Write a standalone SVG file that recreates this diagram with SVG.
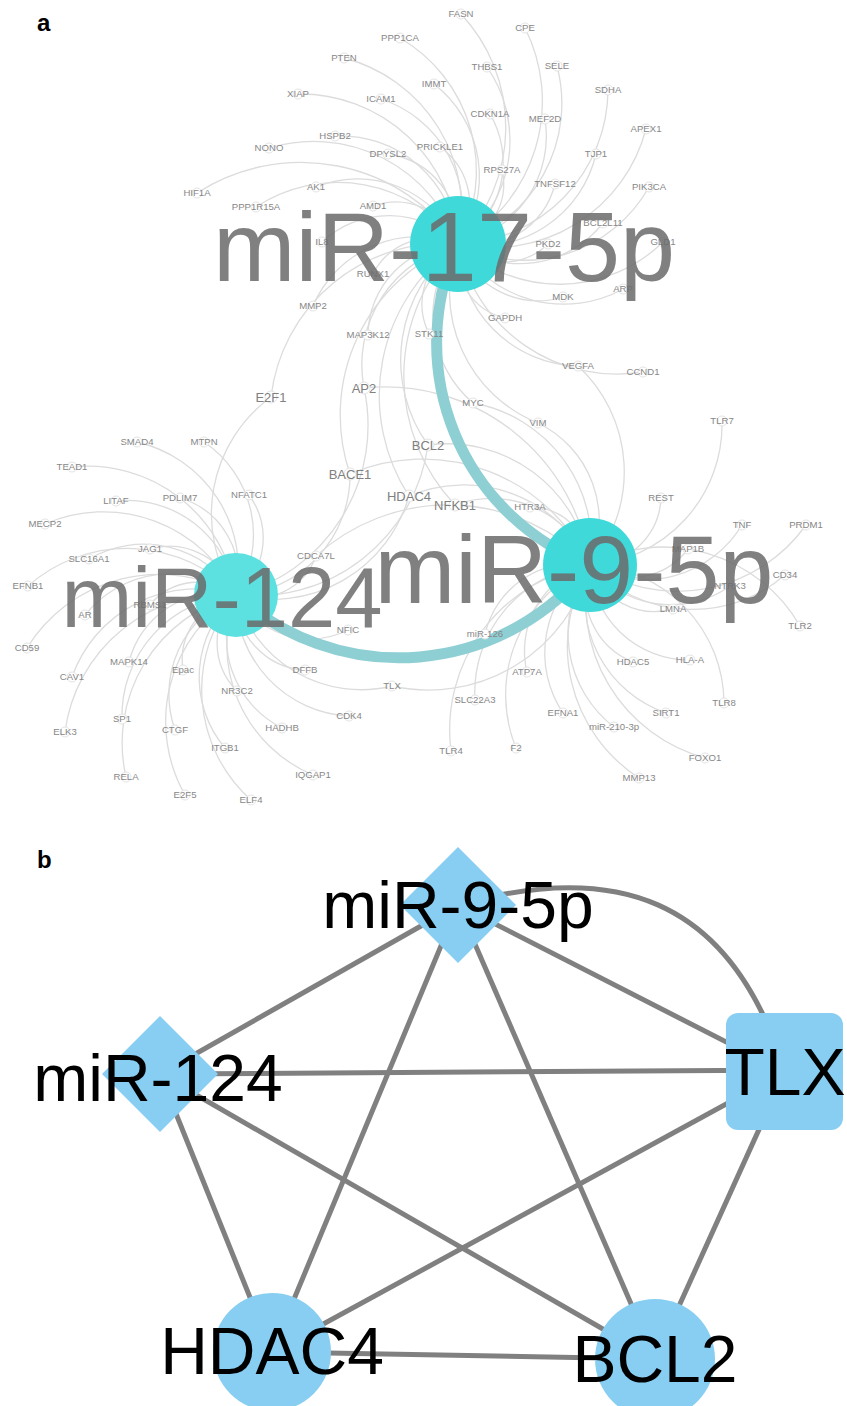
<svg xmlns="http://www.w3.org/2000/svg" width="847" height="1406" viewBox="0 0 847 1406">
<style>
  .bg{fill:#ffffff}
  .e{fill:none;stroke:#dcdcdc;stroke-width:1.3}
  .hx{fill:none;stroke:#8ecfd4;stroke-width:11;stroke-linecap:round}
  .n{fill:#ffffff;stroke:#e4e4e4;stroke-width:1}
  .t{font-family:"Liberation Sans",Arial,sans-serif;font-size:9.6px;fill:#878787;text-anchor:middle}
  .T{font-size:13px;fill:#808080}
  .hub{fill:#40d9da}
  .hub2{fill:#5ce0e0}
  .ht{font-family:"Liberation Sans",Arial,sans-serif;fill:#6b6b6b;fill-opacity:0.86;text-anchor:middle}
  .pl{font-family:"Liberation Sans",Arial,sans-serif;font-size:24px;font-weight:bold;fill:#000}
  .be{stroke:#808080;stroke-width:5;fill:none}
  .bn{fill:#87cef2}
  .bt{font-family:"Liberation Sans",Arial,sans-serif;font-size:66px;fill:#000;text-anchor:middle}
</style>
<rect class="bg" x="0" y="0" width="847" height="1406"/>

<text class="pl" x="37" y="31">a</text>
<text class="pl" x="37" y="868">b</text>

<!-- panel a: gene-to-miRNA edges -->
<g id="edges-a">
  <!-- miR-17-5p -->
  <path class="e" d="M461 14A166 166 0 0 1 458 244"/>
  <path class="e" d="M525 28A163 163 0 0 1 458 244"/>
  <path class="e" d="M400 38A154 154 0 0 1 458 244"/>
  <path class="e" d="M487 67A129 129 0 0 1 458 244"/>
  <path class="e" d="M557 66A147 147 0 0 1 458 244"/>
  <path class="e" d="M344 58A157 157 0 0 1 458 244"/>
  <path class="e" d="M434 84A117 117 0 0 1 458 244"/>
  <path class="e" d="M608 90A155 155 0 0 1 458 244"/>
  <path class="e" d="M298 94A158 158 0 0 1 458 244"/>
  <path class="e" d="M381 99A118 118 0 0 1 458 244"/>
  <path class="e" d="M490 114A96 96 0 0 1 458 244"/>
  <path class="e" d="M545 119A110 110 0 0 1 458 244"/>
  <path class="e" d="M646 129A159 159 0 0 1 458 244"/>
  <path class="e" d="M335 136A118 118 0 0 1 458 244"/>
  <path class="e" d="M269 148A153 153 0 0 1 458 244"/>
  <path class="e" d="M388 154A82 82 0 0 1 458 244"/>
  <path class="e" d="M440 147A71 71 0 0 1 458 244"/>
  <path class="e" d="M596 154A119 119 0 0 1 458 244"/>
  <path class="e" d="M502 170A62 62 0 0 1 458 244"/>
  <path class="e" d="M555 184A82 82 0 0 1 458 244"/>
  <path class="e" d="M649 187A143 143 0 0 1 458 244"/>
  <path class="e" d="M197 193A192 192 0 0 1 458 244"/>
  <path class="e" d="M316 187A110 110 0 0 1 458 244"/>
  <path class="e" d="M256 207A148 148 0 0 1 458 244"/>
  <path class="e" d="M373 206A67 67 0 0 1 458 244"/>
  <path class="e" d="M603 223A106 106 0 0 1 458 244"/>
  <path class="e" d="M548 244A65 65 0 0 1 458 244"/>
  <path class="e" d="M663 242A148 148 0 0 1 458 244"/>
  <path class="e" d="M322 242A98 98 0 0 1 458 244"/>
  <path class="e" d="M623 289A123 123 0 0 1 458 244"/>
  <path class="e" d="M373 274A65 65 0 0 1 458 244"/>
  <path class="e" d="M563 297A85 85 0 0 1 458 244"/>
  <path class="e" d="M313 306A114 114 0 0 1 458 244"/>
  <path class="e" d="M505 318A63 63 0 0 1 458 244"/>
  <path class="e" d="M368 335A92 92 0 0 1 458 244"/>
  <path class="e" d="M429 334A68 68 0 0 1 458 244"/>
  <path class="e" d="M578 366A123 123 0 0 1 458 244"/>
  <path class="e" d="M643 372A162 162 0 0 1 458 244"/>
  <path class="e" d="M271 397A174 174 0 0 1 458 244"/>
  <path class="e" d="M364 388A124 124 0 0 1 458 244"/>
  <path class="e" d="M473 403A115 115 0 0 1 458 244"/>
  <path class="e" d="M538 423A141 141 0 0 1 458 244"/>
  <path class="e" d="M428 445A146 146 0 0 1 458 244"/>
  <path class="e" d="M350 474A183 183 0 0 1 458 244"/>
  <path class="e" d="M455 505A188 188 0 0 1 458 244"/>
  <path class="e" d="M409 496A185 185 0 0 1 458 244"/>
  <!-- miR-124 -->
  <path class="e" d="M236 595A145 145 0 0 1 271 397"/>
  <path class="e" d="M364 388A175 175 0 0 1 236 595"/>
  <path class="e" d="M428 445A175 175 0 0 1 236 595"/>
  <path class="e" d="M350 474A120 120 0 0 1 236 595"/>
  <path class="e" d="M409 496A143 143 0 0 1 236 595"/>
  <path class="e" d="M137 442A131 131 0 0 1 236 595"/>
  <path class="e" d="M204 442A112 112 0 0 1 236 595"/>
  <path class="e" d="M72 467A150 150 0 0 1 236 595"/>
  <path class="e" d="M116 501A110 110 0 0 1 236 595"/>
  <path class="e" d="M180 498A81 81 0 0 1 236 595"/>
  <path class="e" d="M249 495A73 73 0 0 1 236 595"/>
  <path class="e" d="M45 524A147 147 0 0 1 236 595"/>
  <path class="e" d="M89 559A109 109 0 0 1 236 595"/>
  <path class="e" d="M150 549A70 70 0 0 1 236 595"/>
  <path class="e" d="M316 556A64 64 0 0 1 236 595"/>
  <path class="e" d="M28 586A150 150 0 0 1 236 595"/>
  <path class="e" d="M85 615A110 110 0 0 1 236 595"/>
  <path class="e" d="M150 605A62 62 0 0 1 236 595"/>
  <path class="e" d="M348 630A85 85 0 0 1 236 595"/>
  <path class="e" d="M27 648A155 155 0 0 1 236 595"/>
  <path class="e" d="M129 662A91 91 0 0 1 236 595"/>
  <path class="e" d="M183 670A66 66 0 0 1 236 595"/>
  <path class="e" d="M72 677A132 132 0 0 1 236 595"/>
  <path class="e" d="M237 691A69 69 0 0 1 236 595"/>
  <path class="e" d="M305 670A73 73 0 0 1 236 595"/>
  <path class="e" d="M392 686A130 130 0 0 1 236 595"/>
  <path class="e" d="M349 716A119 119 0 0 1 236 595"/>
  <path class="e" d="M122 719A121 121 0 0 1 236 595"/>
  <path class="e" d="M282 728A101 101 0 0 1 236 595"/>
  <path class="e" d="M175 730A107 107 0 0 1 236 595"/>
  <path class="e" d="M65 732A158 158 0 0 1 236 595"/>
  <path class="e" d="M225 748A110 110 0 0 1 236 595"/>
  <path class="e" d="M126 777A153 153 0 0 1 236 595"/>
  <path class="e" d="M313 775A141 141 0 0 1 236 595"/>
  <path class="e" d="M185 795A149 149 0 0 1 236 595"/>
  <path class="e" d="M251 800A148 148 0 0 1 236 595"/>
  <!-- miR-9-5p -->
  <path class="e" d="M364 388A207 207 0 0 1 590 565"/>
  <path class="e" d="M428 445A145 145 0 0 1 590 565"/>
  <path class="e" d="M350 474A185 185 0 0 1 590 565"/>
  <path class="e" d="M409 496A140 140 0 0 1 590 565"/>
  <path class="e" d="M455 505A106 106 0 0 1 590 565"/>
  <path class="e" d="M473 403A144 144 0 0 1 590 565"/>
  <path class="e" d="M538 423A109 109 0 0 1 590 565"/>
  <path class="e" d="M530 507A60 60 0 0 1 590 565"/>
  <path class="e" d="M590 565A167 167 0 0 1 392 686"/>
  <path class="e" d="M316 556A197 197 0 0 1 590 565"/>
  <path class="e" d="M485 634A91 91 0 0 1 590 565"/>
  <path class="e" d="M722 421A141 141 0 0 1 590 565"/>
  <path class="e" d="M661 498A70 70 0 0 1 590 565"/>
  <path class="e" d="M742 525A113 113 0 0 1 590 565"/>
  <path class="e" d="M806 525A158 158 0 0 1 590 565"/>
  <path class="e" d="M688 549A72 72 0 0 1 590 565"/>
  <path class="e" d="M785 575A141 141 0 0 1 590 565"/>
  <path class="e" d="M730 586A102 102 0 0 1 590 565"/>
  <path class="e" d="M590 565A158 158 0 0 1 800 626"/>
  <path class="e" d="M673 609A68 68 0 0 1 590 565"/>
  <path class="e" d="M527 672A89 89 0 0 1 590 565"/>
  <path class="e" d="M475 700A128 128 0 0 1 590 565"/>
  <path class="e" d="M563 713A108 108 0 0 1 590 565"/>
  <path class="e" d="M633 662A76 76 0 0 1 590 565"/>
  <path class="e" d="M690 660A99 99 0 0 1 590 565"/>
  <path class="e" d="M590 565A139 139 0 0 1 724 703"/>
  <path class="e" d="M666 713A120 120 0 0 1 590 565"/>
  <path class="e" d="M614 727A118 118 0 0 1 590 565"/>
  <path class="e" d="M451 751A167 167 0 0 1 590 565"/>
  <path class="e" d="M516 748A142 142 0 0 1 590 565"/>
  <path class="e" d="M705 758A162 162 0 0 1 590 565"/>
  <path class="e" d="M639 778A157 157 0 0 1 590 565"/>
  <path class="e" d="M578 366A144 144 0 0 1 590 565"/>
  <!-- miRNA-to-miRNA links -->
  <path class="hx" d="M458 244A238 238 0 0 0 590 565"/>
  <path class="hx" d="M236 595A243 243 0 0 0 590 565"/>
</g>

<!-- panel a: target genes -->
<g id="n-FASN"><circle class="n" cx="461" cy="14" r="5"/><text class="t" x="461" y="17.4">FASN</text></g>
<g id="n-CPE"><circle class="n" cx="525" cy="28" r="5"/><text class="t" x="525" y="31.4">CPE</text></g>
<g id="n-PPP1CA"><circle class="n" cx="400" cy="38" r="5"/><text class="t" x="400" y="41.4">PPP1CA</text></g>
<g id="n-THBS1"><circle class="n" cx="487" cy="67" r="5"/><text class="t" x="487" y="70.4">THBS1</text></g>
<g id="n-SELE"><circle class="n" cx="557" cy="66" r="5"/><text class="t" x="557" y="69.4">SELE</text></g>
<g id="n-PTEN"><circle class="n" cx="344" cy="58" r="5"/><text class="t" x="344" y="61.4">PTEN</text></g>
<g id="n-IMMT"><circle class="n" cx="434" cy="84" r="5"/><text class="t" x="434" y="87.4">IMMT</text></g>
<g id="n-SDHA"><circle class="n" cx="608" cy="90" r="5"/><text class="t" x="608" y="93.4">SDHA</text></g>
<g id="n-XIAP"><circle class="n" cx="298" cy="94" r="5"/><text class="t" x="298" y="97.4">XIAP</text></g>
<g id="n-ICAM1"><circle class="n" cx="381" cy="99" r="5"/><text class="t" x="381" y="102.4">ICAM1</text></g>
<g id="n-CDKN1A"><circle class="n" cx="490" cy="114" r="5"/><text class="t" x="490" y="117.4">CDKN1A</text></g>
<g id="n-MEF2D"><circle class="n" cx="545" cy="119" r="5"/><text class="t" x="545" y="122.4">MEF2D</text></g>
<g id="n-APEX1"><circle class="n" cx="646" cy="129" r="5"/><text class="t" x="646" y="132.4">APEX1</text></g>
<g id="n-HSPB2"><circle class="n" cx="335" cy="136" r="5"/><text class="t" x="335" y="139.4">HSPB2</text></g>
<g id="n-NONO"><circle class="n" cx="269" cy="148" r="5"/><text class="t" x="269" y="151.4">NONO</text></g>
<g id="n-DPYSL2"><circle class="n" cx="388" cy="154" r="5"/><text class="t" x="388" y="157.4">DPYSL2</text></g>
<g id="n-PRICKLE1"><circle class="n" cx="440" cy="147" r="5"/><text class="t" x="440" y="150.4">PRICKLE1</text></g>
<g id="n-TJP1"><circle class="n" cx="596" cy="154" r="5"/><text class="t" x="596" y="157.4">TJP1</text></g>
<g id="n-RPS27A"><circle class="n" cx="502" cy="170" r="5"/><text class="t" x="502" y="173.4">RPS27A</text></g>
<g id="n-TNFSF12"><circle class="n" cx="555" cy="184" r="5"/><text class="t" x="555" y="187.4">TNFSF12</text></g>
<g id="n-PIK3CA"><circle class="n" cx="649" cy="187" r="5"/><text class="t" x="649" y="190.4">PIK3CA</text></g>
<g id="n-HIF1A"><circle class="n" cx="197" cy="193" r="5"/><text class="t" x="197" y="196.4">HIF1A</text></g>
<g id="n-AK1"><circle class="n" cx="316" cy="187" r="5"/><text class="t" x="316" y="190.4">AK1</text></g>
<g id="n-PPP1R15A"><circle class="n" cx="256" cy="207" r="5"/><text class="t" x="256" y="210.4">PPP1R15A</text></g>
<g id="n-AMD1"><circle class="n" cx="373" cy="206" r="5"/><text class="t" x="373" y="209.4">AMD1</text></g>
<g id="n-BCL2L11"><circle class="n" cx="603" cy="223" r="5"/><text class="t" x="603" y="226.4">BCL2L11</text></g>
<g id="n-PKD2"><circle class="n" cx="548" cy="244" r="5"/><text class="t" x="548" y="247.4">PKD2</text></g>
<g id="n-GLD1"><circle class="n" cx="663" cy="242" r="5"/><text class="t" x="663" y="245.4">GLD1</text></g>
<g id="n-IL8"><circle class="n" cx="322" cy="242" r="5"/><text class="t" x="322" y="245.4">IL8</text></g>
<g id="n-ARP"><circle class="n" cx="623" cy="289" r="5"/><text class="t" x="623" y="292.4">ARP</text></g>
<g id="n-RUNX1"><circle class="n" cx="373" cy="274" r="5"/><text class="t" x="373" y="277.4">RUNX1</text></g>
<g id="n-MDK"><circle class="n" cx="563" cy="297" r="5"/><text class="t" x="563" y="300.4">MDK</text></g>
<g id="n-MMP2"><circle class="n" cx="313" cy="306" r="5"/><text class="t" x="313" y="309.4">MMP2</text></g>
<g id="n-GAPDH"><circle class="n" cx="505" cy="318" r="5"/><text class="t" x="505" y="321.4">GAPDH</text></g>
<g id="n-MAP3K12"><circle class="n" cx="368" cy="335" r="5"/><text class="t" x="368" y="338.4">MAP3K12</text></g>
<g id="n-STK11"><circle class="n" cx="429" cy="334" r="5"/><text class="t" x="429" y="337.4">STK11</text></g>
<g id="n-VEGFA"><circle class="n" cx="578" cy="366" r="5"/><text class="t" x="578" y="369.4">VEGFA</text></g>
<g id="n-CCND1"><circle class="n" cx="643" cy="372" r="5"/><text class="t" x="643" y="375.4">CCND1</text></g>
<g id="n-E2F1"><circle class="n" cx="271" cy="397" r="6"/><text class="t T" x="271" y="401.6">E2F1</text></g>
<g id="n-AP2"><circle class="n" cx="364" cy="388" r="6"/><text class="t T" x="364" y="392.6">AP2</text></g>
<g id="n-MYC"><circle class="n" cx="473" cy="403" r="5"/><text class="t" x="473" y="406.4">MYC</text></g>
<g id="n-VIM"><circle class="n" cx="538" cy="423" r="5"/><text class="t" x="538" y="426.4">VIM</text></g>
<g id="n-BCL2"><circle class="n" cx="428" cy="445" r="6"/><text class="t T" x="428" y="449.6">BCL2</text></g>
<g id="n-BACE1"><circle class="n" cx="350" cy="474" r="6"/><text class="t T" x="350" y="478.6">BACE1</text></g>
<g id="n-HDAC4"><circle class="n" cx="409" cy="496" r="6"/><text class="t T" x="409" y="500.6">HDAC4</text></g>
<g id="n-NFKB1"><circle class="n" cx="455" cy="505" r="6"/><text class="t T" x="455" y="509.6">NFKB1</text></g>
<g id="n-HTR3A"><circle class="n" cx="530" cy="507" r="5"/><text class="t" x="530" y="510.4">HTR3A</text></g>
<g id="n-TLR7"><circle class="n" cx="722" cy="421" r="5"/><text class="t" x="722" y="424.4">TLR7</text></g>
<g id="n-REST"><circle class="n" cx="661" cy="498" r="5"/><text class="t" x="661" y="501.4">REST</text></g>
<g id="n-TNF"><circle class="n" cx="742" cy="525" r="5"/><text class="t" x="742" y="528.4">TNF</text></g>
<g id="n-PRDM1"><circle class="n" cx="806" cy="525" r="5"/><text class="t" x="806" y="528.4">PRDM1</text></g>
<g id="n-MAP1B"><circle class="n" cx="688" cy="549" r="5"/><text class="t" x="688" y="552.4">MAP1B</text></g>
<g id="n-CD34"><circle class="n" cx="785" cy="575" r="5"/><text class="t" x="785" y="578.4">CD34</text></g>
<g id="n-NTRK3"><circle class="n" cx="730" cy="586" r="5"/><text class="t" x="730" y="589.4">NTRK3</text></g>
<g id="n-TLR2"><circle class="n" cx="800" cy="626" r="5"/><text class="t" x="800" y="629.4">TLR2</text></g>
<g id="n-LMNA"><circle class="n" cx="673" cy="609" r="5"/><text class="t" x="673" y="612.4">LMNA</text></g>
<g id="n-SMAD4"><circle class="n" cx="137" cy="442" r="5"/><text class="t" x="137" y="445.4">SMAD4</text></g>
<g id="n-MTPN"><circle class="n" cx="204" cy="442" r="5"/><text class="t" x="204" y="445.4">MTPN</text></g>
<g id="n-TEAD1"><circle class="n" cx="72" cy="467" r="5"/><text class="t" x="72" y="470.4">TEAD1</text></g>
<g id="n-LITAF"><circle class="n" cx="116" cy="501" r="5"/><text class="t" x="116" y="504.4">LITAF</text></g>
<g id="n-PDLIM7"><circle class="n" cx="180" cy="498" r="5"/><text class="t" x="180" y="501.4">PDLIM7</text></g>
<g id="n-NFATC1"><circle class="n" cx="249" cy="495" r="5"/><text class="t" x="249" y="498.4">NFATC1</text></g>
<g id="n-MECP2"><circle class="n" cx="45" cy="524" r="5"/><text class="t" x="45" y="527.4">MECP2</text></g>
<g id="n-SLC16A1"><circle class="n" cx="89" cy="559" r="5"/><text class="t" x="89" y="562.4">SLC16A1</text></g>
<g id="n-JAG1"><circle class="n" cx="150" cy="549" r="5"/><text class="t" x="150" y="552.4">JAG1</text></g>
<g id="n-CDCA7L"><circle class="n" cx="316" cy="556" r="5"/><text class="t" x="316" y="559.4">CDCA7L</text></g>
<g id="n-EFNB1"><circle class="n" cx="28" cy="586" r="5"/><text class="t" x="28" y="589.4">EFNB1</text></g>
<g id="n-AR"><circle class="n" cx="85" cy="615" r="5"/><text class="t" x="85" y="618.4">AR</text></g>
<g id="n-RBMS1"><circle class="n" cx="150" cy="605" r="5"/><text class="t" x="150" y="608.4">RBMS1</text></g>
<g id="n-NFIC"><circle class="n" cx="348" cy="630" r="5"/><text class="t" x="348" y="633.4">NFIC</text></g>
<g id="n-CD59"><circle class="n" cx="27" cy="648" r="5"/><text class="t" x="27" y="651.4">CD59</text></g>
<g id="n-MAPK14"><circle class="n" cx="129" cy="662" r="5"/><text class="t" x="129" y="665.4">MAPK14</text></g>
<g id="n-Epac"><circle class="n" cx="183" cy="670" r="5"/><text class="t" x="183" y="673.4">Epac</text></g>
<g id="n-CAV1"><circle class="n" cx="72" cy="677" r="5"/><text class="t" x="72" y="680.4">CAV1</text></g>
<g id="n-NR3C2"><circle class="n" cx="237" cy="691" r="5"/><text class="t" x="237" y="694.4">NR3C2</text></g>
<g id="n-DFFB"><circle class="n" cx="305" cy="670" r="5"/><text class="t" x="305" y="673.4">DFFB</text></g>
<g id="n-TLX"><circle class="n" cx="392" cy="686" r="5"/><text class="t" x="392" y="689.4">TLX</text></g>
<g id="n-CDK4"><circle class="n" cx="349" cy="716" r="5"/><text class="t" x="349" y="719.4">CDK4</text></g>
<g id="n-SP1"><circle class="n" cx="122" cy="719" r="5"/><text class="t" x="122" y="722.4">SP1</text></g>
<g id="n-HADHB"><circle class="n" cx="282" cy="728" r="5"/><text class="t" x="282" y="731.4">HADHB</text></g>
<g id="n-CTGF"><circle class="n" cx="175" cy="730" r="5"/><text class="t" x="175" y="733.4">CTGF</text></g>
<g id="n-ELK3"><circle class="n" cx="65" cy="732" r="5"/><text class="t" x="65" y="735.4">ELK3</text></g>
<g id="n-ITGB1"><circle class="n" cx="225" cy="748" r="5"/><text class="t" x="225" y="751.4">ITGB1</text></g>
<g id="n-RELA"><circle class="n" cx="126" cy="777" r="5"/><text class="t" x="126" y="780.4">RELA</text></g>
<g id="n-IQGAP1"><circle class="n" cx="313" cy="775" r="5"/><text class="t" x="313" y="778.4">IQGAP1</text></g>
<g id="n-E2F5"><circle class="n" cx="185" cy="795" r="5"/><text class="t" x="185" y="798.4">E2F5</text></g>
<g id="n-ELF4"><circle class="n" cx="251" cy="800" r="5"/><text class="t" x="251" y="803.4">ELF4</text></g>
<g id="n-miR-126"><circle class="n" cx="485" cy="634" r="5"/><text class="t" x="485" y="637.4">miR-126</text></g>
<g id="n-ATP7A"><circle class="n" cx="527" cy="672" r="5"/><text class="t" x="527" y="675.4">ATP7A</text></g>
<g id="n-SLC22A3"><circle class="n" cx="475" cy="700" r="5"/><text class="t" x="475" y="703.4">SLC22A3</text></g>
<g id="n-EFNA1"><circle class="n" cx="563" cy="713" r="5"/><text class="t" x="563" y="716.4">EFNA1</text></g>
<g id="n-HDAC5"><circle class="n" cx="633" cy="662" r="5"/><text class="t" x="633" y="665.4">HDAC5</text></g>
<g id="n-HLA-A"><circle class="n" cx="690" cy="660" r="5"/><text class="t" x="690" y="663.4">HLA-A</text></g>
<g id="n-TLR8"><circle class="n" cx="724" cy="703" r="5"/><text class="t" x="724" y="706.4">TLR8</text></g>
<g id="n-SIRT1"><circle class="n" cx="666" cy="713" r="5"/><text class="t" x="666" y="716.4">SIRT1</text></g>
<g id="n-miR-210-3p"><circle class="n" cx="614" cy="727" r="5"/><text class="t" x="614" y="730.4">miR-210-3p</text></g>
<g id="n-TLR4"><circle class="n" cx="451" cy="751" r="5"/><text class="t" x="451" y="754.4">TLR4</text></g>
<g id="n-F2"><circle class="n" cx="516" cy="748" r="5"/><text class="t" x="516" y="751.4">F2</text></g>
<g id="n-FOXO1"><circle class="n" cx="705" cy="758" r="5"/><text class="t" x="705" y="761.4">FOXO1</text></g>
<g id="n-MMP13"><circle class="n" cx="639" cy="778" r="5"/><text class="t" x="639" y="781.4">MMP13</text></g>

<!-- panel a: miRNA hubs -->
<g id="hub-miR-17-5p"><circle class="hub" cx="458" cy="244" r="48"/><text class="ht" x="444" y="281" font-size="99">miR-17-5p</text></g>
<g id="hub-miR-9-5p"><circle class="hub" cx="590" cy="565" r="47"/><text class="ht" x="574" y="603" font-size="97">miR-9-5p</text></g>
<g id="hub-miR-124"><circle class="hub2" cx="236" cy="595" r="42"/><text class="ht" x="222" y="627" font-size="85">miR-124</text></g>

<!-- panel b: edges -->
<g id="edges-b">
  <line class="be" x1="458" y1="905" x2="160" y2="1074"/>
  <line class="be" x1="458" y1="905" x2="785" y2="1072"/>
  <path class="be" d="M458 905C610 862 730 892 785 1072"/>
  <line class="be" x1="458" y1="905" x2="272" y2="1352"/>
  <line class="be" x1="458" y1="905" x2="655" y2="1359"/>
  <line class="be" x1="160" y1="1074" x2="785" y2="1070"/>
  <line class="be" x1="160" y1="1074" x2="272" y2="1352"/>
  <line class="be" x1="160" y1="1074" x2="655" y2="1359"/>
  <line class="be" x1="785" y1="1072" x2="272" y2="1352"/>
  <line class="be" x1="785" y1="1072" x2="655" y2="1359"/>
  <line class="be" x1="272" y1="1352" x2="655" y2="1359"/>
</g>

<!-- panel b: nodes -->
<g id="b-miR-9-5p"><polygon class="bn" points="458,847 516,905 458,963 400,905"/><text class="bt" x="458" y="928">miR-9-5p</text></g>
<g id="b-miR-124"><polygon class="bn" points="160,1016 218,1074 160,1132 102,1074"/><text class="bt" x="158" y="1101">miR-124</text></g>
<g id="b-TLX"><rect class="bn" x="726" y="1013" width="117" height="117" rx="12"/><text class="bt" x="785" y="1095">TLX</text></g>
<g id="b-HDAC4"><circle class="bn" cx="272" cy="1352" r="59"/><text class="bt" x="272" y="1374">HDAC4</text></g>
<g id="b-BCL2"><circle class="bn" cx="655" cy="1359" r="60"/><text class="bt" x="655" y="1382">BCL2</text></g>
</svg>
